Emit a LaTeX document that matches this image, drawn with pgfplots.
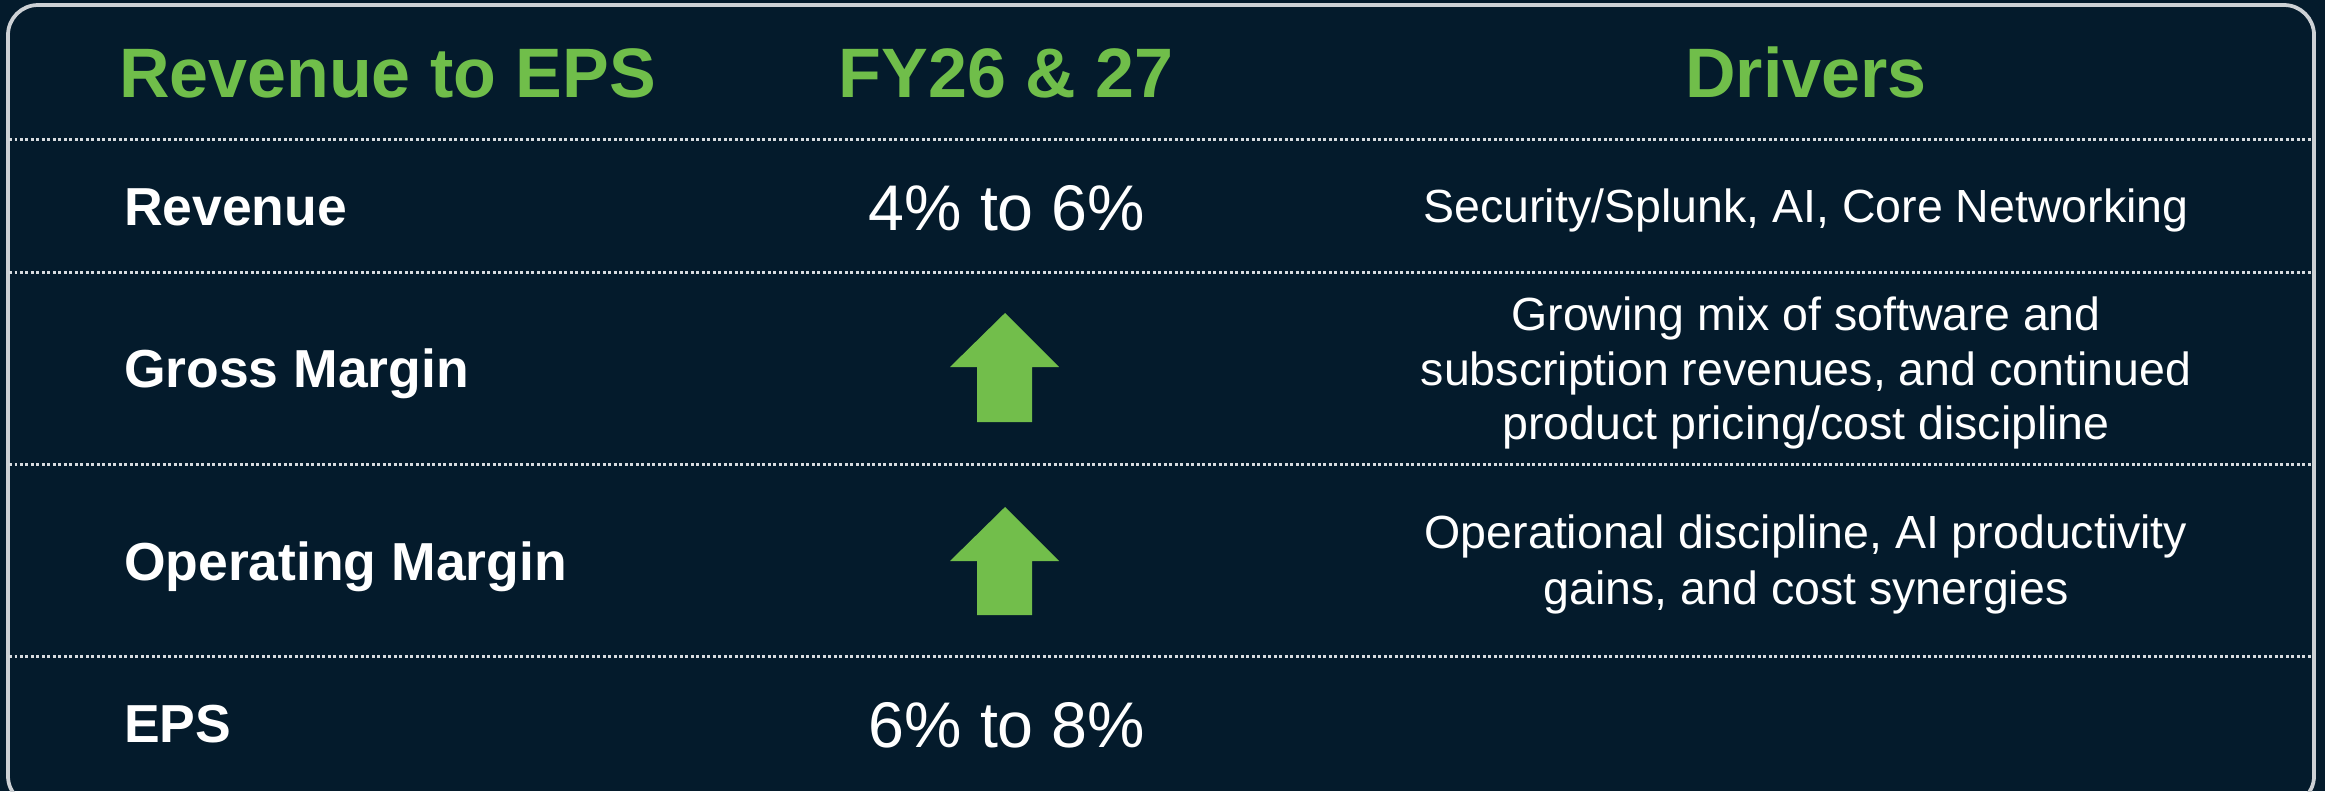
\documentclass[border=0pt]{standalone}
\usepackage{fontspec}
\setmainfont{Liberation Sans}
\usepackage{pgfplots}
\pgfplotsset{compat=1.18}
\definecolor{bg}{RGB}{4,27,44}
\definecolor{hdr}{RGB}{112,190,74}
\definecolor{arrowc}{RGB}{114,190,75}
\definecolor{bordc}{RGB}{205,209,213}
\definecolor{dotc}{RGB}{215,219,223}
\begin{document}
\begin{tikzpicture}
\begin{axis}[
  scale only axis, width=465pt, height=158.2pt,
  xmin=0, xmax=2325, ymin=0, ymax=791, y dir=reverse,
  hide axis, no marks, clip=true,
]
\fill[bg] (axis cs:0,0) rectangle (axis cs:2325,791);
\draw[bordc, line width=0.75pt, rounded corners=6pt] (axis cs:8,5) rectangle (axis cs:2314,806);
% dotted separators
\addplot[dotc, line width=0.6pt, dash pattern=on 0.55pt off 0.55pt] coordinates {(9,139) (2313,139)};
\addplot[dotc, line width=0.6pt, dash pattern=on 0.55pt off 0.55pt] coordinates {(9,272) (2313,272)};
\addplot[dotc, line width=0.6pt, dash pattern=on 0.55pt off 0.55pt] coordinates {(9,464) (2313,464)};
\addplot[dotc, line width=0.6pt, dash pattern=on 0.55pt off 0.55pt] coordinates {(9,656) (2313,656)};
% arrows
\addplot[fill=arrowc, draw=none] coordinates {(1005,313) (1059,367) (1032,367) (1032,422) (977,422) (977,367) (950,367)} -- cycle;
\addplot[fill=arrowc, draw=none] coordinates {(1005,507) (1059,561) (1032,561) (1032,615) (977,615) (977,561) (950,561)} -- cycle;
% headers
\node[anchor=base west, inner sep=0pt, text=hdr, font=\fontsize{14}{16}\selectfont\bfseries] at (axis cs:118,97) {Revenue to EPS};
\node[anchor=base, inner sep=0pt, text=hdr, font=\fontsize{14}{16}\selectfont\bfseries] at (axis cs:1006,97) {FY26 \& 27};
\node[anchor=base, inner sep=0pt, text=hdr, font=\fontsize{14}{16}\selectfont\bfseries] at (axis cs:1806,97) {Drivers};
% row labels
\node[anchor=base west, inner sep=0pt, text=white, font=\fontsize{10.7}{12}\selectfont\bfseries] at (axis cs:123,225) {Revenue};
\node[anchor=base west, inner sep=0pt, text=white, font=\fontsize{10.7}{12}\selectfont\bfseries] at (axis cs:123,387) {Gross Margin};
\node[anchor=base west, inner sep=0pt, text=white, font=\fontsize{10.7}{12}\selectfont\bfseries] at (axis cs:123,580) {Operating Margin};
\node[anchor=base west, inner sep=0pt, text=white, font=\fontsize{10.7}{12}\selectfont\bfseries] at (axis cs:123,742) {EPS};
% values
\node[anchor=base, inner sep=0pt, text=white, font=\fontsize{12.9}{14}\selectfont] at (axis cs:1007,230) {4\% to 6\%};
\node[anchor=base, inner sep=0pt, text=white, font=\fontsize{12.9}{14}\selectfont] at (axis cs:1007,747) {6\% to 8\%};
% drivers
\node[anchor=base, inner sep=0pt, text=white, font=\fontsize{9.3}{10.8}\selectfont] at (axis cs:1806,222) {Security/Splunk, AI, Core Networking};
\node[anchor=base, inner sep=0pt, text=white, font=\fontsize{9.3}{10.8}\selectfont] at (axis cs:1806,330) {Growing mix of software and};
\node[anchor=base, inner sep=0pt, text=white, font=\fontsize{9.3}{10.8}\selectfont] at (axis cs:1806,385) {subscription revenues, and continued};
\node[anchor=base, inner sep=0pt, text=white, font=\fontsize{9.3}{10.8}\selectfont] at (axis cs:1806,439) {product pricing/cost discipline};
\node[anchor=base, inner sep=0pt, text=white, font=\fontsize{9.3}{10.8}\selectfont] at (axis cs:1806,548) {Operational discipline, AI productivity};
\node[anchor=base, inner sep=0pt, text=white, font=\fontsize{9.3}{10.8}\selectfont] at (axis cs:1806,604) {gains, and cost synergies};
\end{axis}
\end{tikzpicture}
\end{document}
